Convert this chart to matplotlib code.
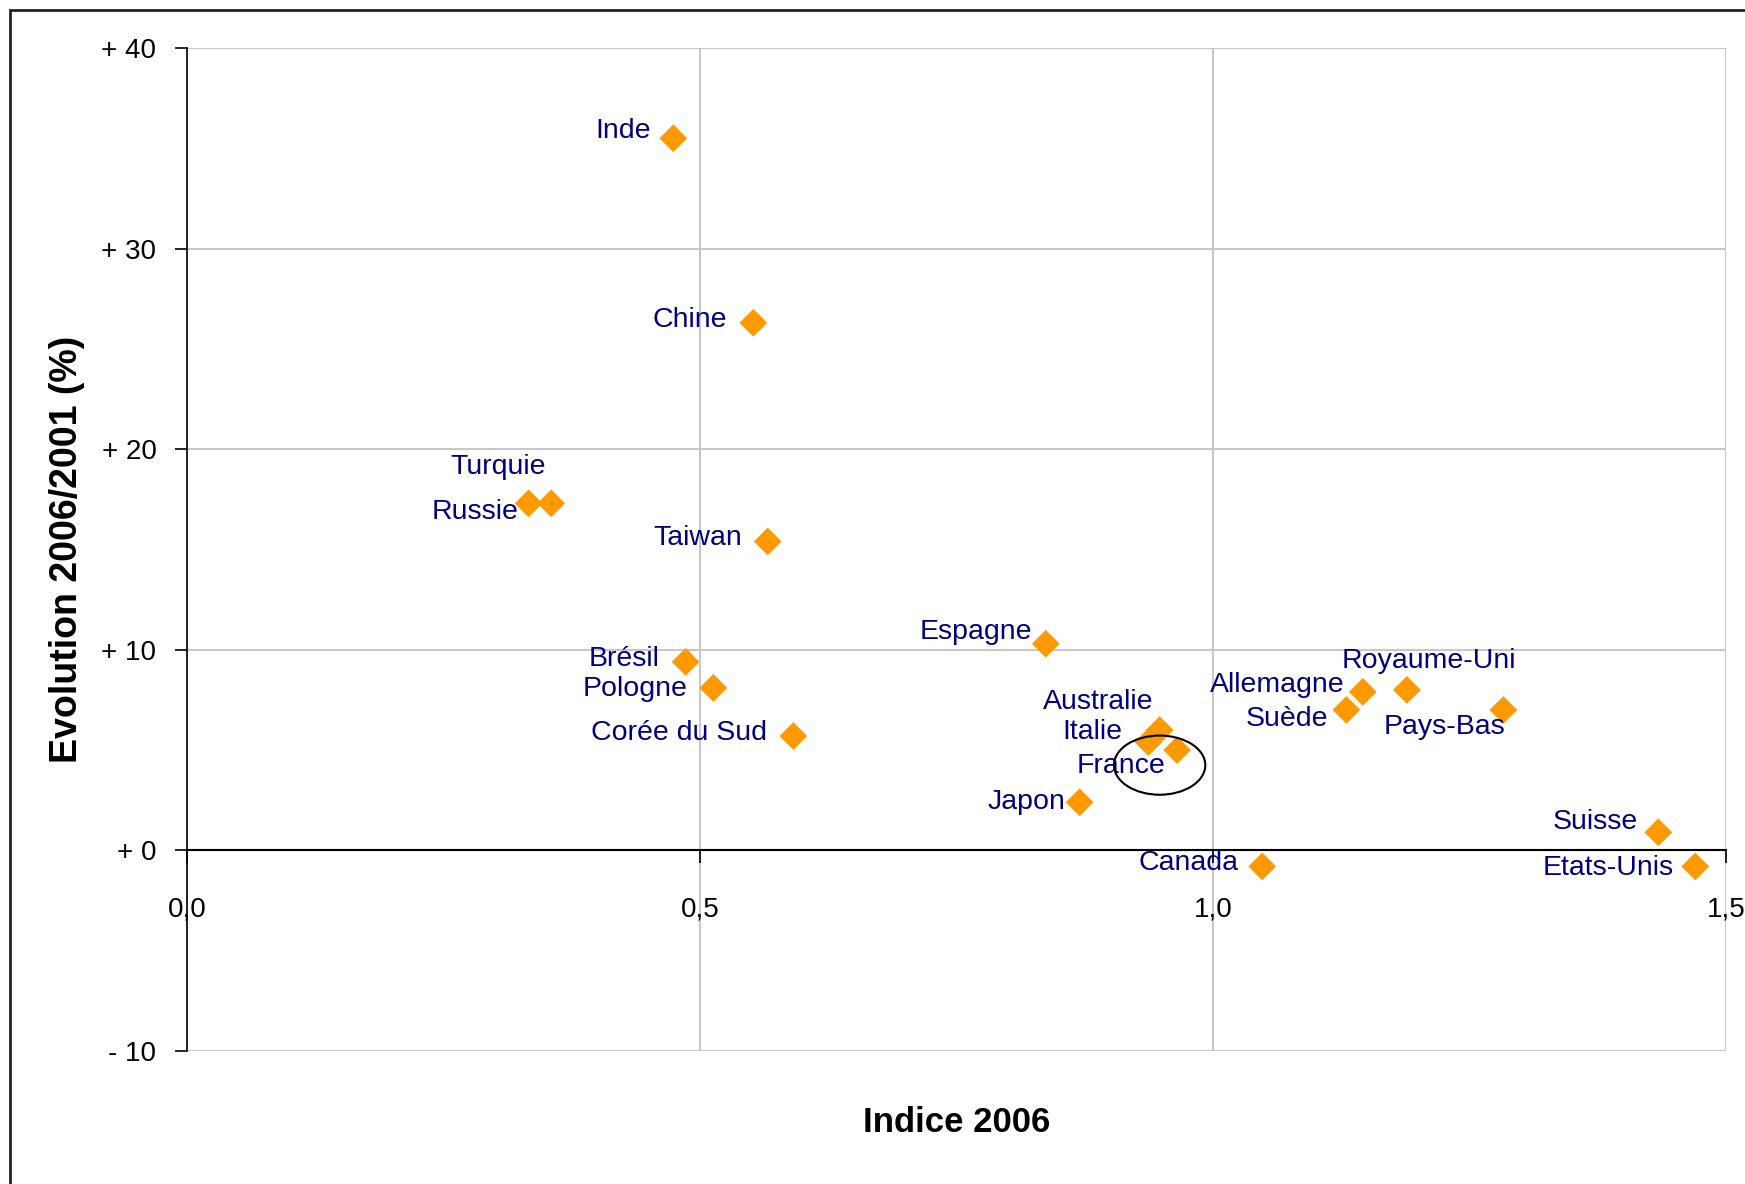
import matplotlib
matplotlib.use("Agg")
import matplotlib.pyplot as plt
from matplotlib.patches import Ellipse, Rectangle

plt.rcParams['font.family'] = ['Liberation Sans', 'DejaVu Sans']

countries = ["Inde", "Chine", "Turquie", "Russie", "Taiwan", "Espagne", "Brésil",
             "Pologne", "Corée du Sud", "Australie", "Italie", "France", "Japon",
             "Canada", "Allemagne", "Royaume-Uni", "Suède", "Pays-Bas", "Suisse",
             "Etats-Unis"]
indice_2006 = [0.474, 0.552, 0.355, 0.333, 0.566, 0.837, 0.486,
               0.513, 0.591, 0.948, 0.937, 0.965, 0.870,
               1.048, 1.146, 1.189, 1.130, 1.283, 1.434, 1.470]
evolution = [35.5, 26.3, 17.3, 17.3, 15.4, 10.3, 9.4,
             8.1, 5.7, 6.0, 5.4, 5.0, 2.4,
             -0.8, 7.9, 8.0, 7.0, 7.0, 0.9, -0.8]

x_ticks = [0.0, 0.5, 1.0, 1.5]
x_tick_labels = ["0,0", "0,5", "1,0", "1,5"]
y_ticks = [-10, 0, 10, 20, 30, 40]
y_tick_labels = ["- 10", "+ 0", "+ 10", "+ 20", "+ 30", "+ 40"]

# label placement (offset in pixels from marker, horizontal alignment)
label_style = {
    "Inde": (-22, 7, "right"), "Chine": (-26, 3, "right"),
    "Turquie": (-53, 36, "center"), "Russie": (-10, -9, "right"),
    "Taiwan": (-26, 3, "right"), "Espagne": (-14, 12, "right"),
    "Brésil": (-26, 3, "right"), "Pologne": (-26, -1, "right"),
    "Corée du Sud": (-26, 3, "right"), "Australie": (-6, 28, "right"),
    "Italie": (-26, 10, "right"), "France": (-12, -16, "right"),
    "Japon": (-14, 0, "right"), "Canada": (-24, 3, "right"),
    "Allemagne": (-18, 7, "right"), "Royaume-Uni": (22, 29, "center"),
    "Suède": (-18, -9, "right"), "Pays-Bas": (2, -17, "right"),
    "Suisse": (-20, 10, "right"), "Etats-Unis": (-21, -2, "right"),
}

fig = plt.figure(figsize=(17.45, 11.84), dpi=100)
ax = fig.add_axes([187/1745, 1 - 1051/1184, (1726-187)/1745, (1051-48)/1184])

ax.set_xlim(0, 1.5)
ax.set_ylim(-10, 40)
ax.set_xticks(x_ticks)
ax.set_xticklabels(x_tick_labels)
ax.set_yticks(y_ticks)
ax.set_yticklabels(y_tick_labels)

ax.grid(True, color="#c8c8c8", linewidth=1.5, zorder=0)
ax.set_axisbelow(True)

for s in ["top", "right"]:
    ax.spines[s].set_visible(False)
ax.spines["bottom"].set_position(("data", 0))
ax.spines["bottom"].set_linewidth(1.5)
ax.spines["left"].set_linewidth(1.2)
ax.spines["bottom"].set_zorder(1)

ax.tick_params(axis="x", direction="out", length=9, width=1.2, pad=24,
               labelsize=20, colors="black")
ax.tick_params(axis="y", direction="out", length=9, width=1.2, pad=13,
               labelsize=20)

ax.scatter(indice_2006, evolution, marker="D", s=200, color="#FF9900",
           edgecolors="none", zorder=3, clip_on=False)

for name, xv, yv in zip(countries, indice_2006, evolution):
    dx, dy, ha = label_style[name]
    ax.annotate(name, (xv, yv), xytext=(dx, dy), textcoords="offset pixels",
                ha=ha, va="center", fontsize=20.5, color="#000080", zorder=4)

# highlight ellipse around France
fi = countries.index("France")
ax.add_patch(Ellipse((indice_2006[fi] - 0.017, evolution[fi] - 0.75),
                     width=0.089, height=2.95, fill=False,
                     edgecolor="black", linewidth=1.5, zorder=5))

ax.set_xlabel("Indice 2006", fontsize=25, fontweight="bold", va="center")
ax.xaxis.set_label_coords(0.5, -0.071)
ax.set_ylabel("Evolution 2006/2001 (%)", fontsize=27, fontweight="bold",
              va="center")
ax.yaxis.set_label_coords(-0.078, 0.5)

# outer chart border
fig.patches.append(Rectangle((10/1745, -0.05), 1.1, 1 - 10/1184 + 0.05,
                             transform=fig.transFigure, fill=False,
                             edgecolor="#222222", linewidth=2))

fig.savefig("out.png", dpi=100)
